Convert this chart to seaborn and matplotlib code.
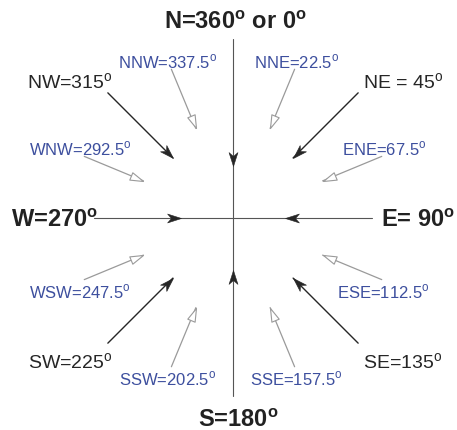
import numpy as np
import matplotlib.pyplot as plt
import seaborn as sns
from matplotlib.markers import MarkerStyle
from matplotlib.path import Path
from matplotlib.transforms import Affine2D

sns.set_theme(style="white")
plt.rcParams["font.family"] = ["Liberation Sans", "DejaVu Sans"]
plt.rcParams["mathtext.fontset"] = "custom"
plt.rcParams["mathtext.rm"] = "Liberation Sans"
plt.rcParams["mathtext.bf"] = "Liberation Sans:bold"

# ---- dados: 16 pontos da rosa dos ventos ----
names = ["N", "NNE", "NE", "ENE", "E", "ESE", "SE", "SSE",
         "S", "SSW", "SW", "WSW", "W", "WNW", "NW", "NNW"]
bearings = [0, 22.5, 45, 67.5, 90, 112.5, 135, 157.5,
            180, 202.5, 225, 247.5, 270, 292.5, 315, 337.5]
label_text = ["N=360° or 0°", "NNE=22.5°", "NE = 45°", "ENE=67.5°",
              "E= 90°", "ESE=112.5°", "SE=135°", "SSE=157.5°",
              "S=180°", "SSW=202.5°", "SW=225°", "WSW=247.5°",
              "W=270°", "WNW=292.5°", "NW=315°", "NNW=337.5°"]

BLUE = "#3d4f9e"
BLACK = "#262626"
GRAY = "#9a9a9a"
CROSS = "#555555"

# raios (em pixels) de cada classe de seta
R_MAJOR = (177, 85)
R_MINOR = (161, 97)
R_CARD_TIP = 52
R_NS, R_EW = 178, 139


def deg_label(txt, bold=False):
    sup = r"$^{\mathbf{o}}$" if bold else r"$^{\mathrm{o}}$"
    return txt.replace("°", sup)


def head(kind, rot):
    if kind == "stealth":
        verts = [(0, 0), (-1, 0.32), (-0.72, 0), (-1, -0.32), (0, 0)]
    else:
        verts = [(0, 0), (-1, 0.3), (-1, -0.3), (0, 0)]
    codes = [Path.MOVETO] + [Path.LINETO] * (len(verts) - 2) + [Path.CLOSEPOLY]
    return MarkerStyle(Path(verts, codes), transform=Affine2D().rotate_deg(rot))


fig = plt.figure(figsize=(4.57, 4.31), dpi=100)
ax = fig.add_axes([0, 0, 1, 1])
ax.set_xlim(-233, 224)
ax.set_ylim(-212, 219)
ax.set_axis_off()

# ---- cruz central (N-S e W-E) ----
ax.plot([0, 0], [-R_NS, R_NS + 1], color=CROSS, lw=0.8, zorder=1)
ax.plot([-R_EW, R_EW], [0, 0], color=CROSS, lw=0.8, zorder=1)

for name, b, txt in zip(names, bearings, label_text):
    th = np.deg2rad(b)
    ux, uy = np.sin(th), np.cos(th)
    rot = np.degrees(np.arctan2(-uy, -ux))
    if b % 90 == 0:
        tx, ty = R_CARD_TIP * ux, R_CARD_TIP * uy
        ax.plot(tx, ty, marker=head("stealth", rot), ms=20, color=BLACK,
                mew=0.4, zorder=3)
        lab = deg_label(txt, bold=True)
        kw = dict(fontsize=17, fontweight="bold", color="#222222")
        if name == "N":
            ax.text(2, R_NS + 12, lab, ha="center", va="baseline", **kw)
        elif name == "S":
            ax.text(5, -R_NS - 12, lab, ha="center", va="top", **kw)
        elif name == "W":
            ax.text(-R_EW + 4, -8, lab, ha="right", va="baseline", **kw)
        else:
            ax.text(R_EW + 9, -8, lab, ha="left", va="baseline", **kw)
        continue

    major = b % 45 == 0
    r0, r1 = R_MAJOR if major else R_MINOR
    x0, y0 = r0 * ux, r0 * uy
    x1, y1 = r1 * ux, r1 * uy
    if major:
        ax.plot([x0, x1], [y0, y1], color=BLACK, lw=1.0, zorder=2)
        ax.plot(x1, y1, marker=head("stealth", rot), ms=20, color=BLACK,
                mew=0.4, zorder=3)
        ha = "left" if ux > 0 else "right"
        dx = 5
        if uy > 0:
            ax.text(x0 + dx, y0 + 5, deg_label(txt), ha=ha, va="baseline",
                    fontsize=14, color=BLACK)
        else:
            ax.text(x0 + dx, y0 - 8, deg_label(txt), ha=ha, va="top",
                    fontsize=14, color=BLACK)
    else:
        ax.plot([x0, x1], [y0, y1], color=GRAY, lw=0.9, zorder=2)
        ax.plot(x1, y1, marker=head("open", rot), ms=19, mfc="white",
                mec=GRAY, mew=0.8, zorder=3)
        dx = -4 if ux < 0 else 2
        if uy > 0:
            ax.text(x0 + dx, y0 + 2, deg_label(txt), ha="center",
                    va="baseline", fontsize=12, color=BLUE)
        else:
            ax.text(x0 + dx, y0 - 2, deg_label(txt), ha="center",
                    va="top", fontsize=12, color=BLUE)

fig.savefig("out.png", dpi=100)
